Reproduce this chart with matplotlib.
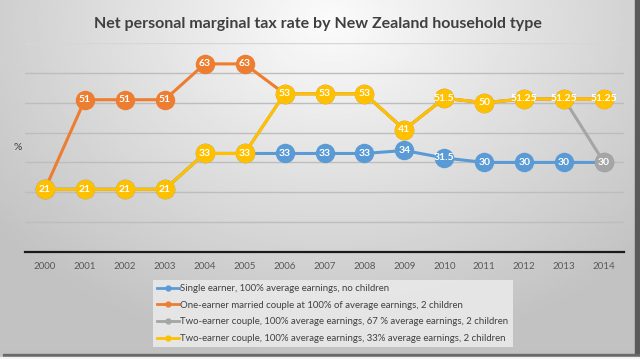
import numpy as np
import matplotlib
matplotlib.use("Agg")
import matplotlib.pyplot as plt

plt.rcParams["font.family"] = ["Lato", "DejaVu Sans"]

# ── data ──────────────────────────────────────────────
years = ["2000", "2001", "2002", "2003", "2004", "2005", "2006", "2007",
         "2008", "2009", "2010", "2011", "2012", "2013", "2014"]

single = [21, 21, 21, 21, 33, 33, 33, 33, 33, 34, 31.5, 30, 30, 30, 30]
one_earner = [21, 51, 51, 51, 63, 63, 53, 53, 53, 41, 51.5, 50, 51.25, 51.25, 51.25]
two_67 = [21, 21, 21, 21, 33, 33, 53, 53, 53, 41, 51.5, 50, 51.25, 51.25, 30]
two_33 = [21, 21, 21, 21, 33, 33, 53, 53, 53, 41, 51.5, 50, 51.25, 51.25, 51.25]

names = [
    "Single earner, 100% average earnings, no children",
    "One-earner married couple at 100% of average earnings, 2 children",
    "Two-earner couple, 100% average earnings, 67 % average earnings, 2 children",
    "Two-earner couple, 100% average earnings, 33% average earnings, 2 children",
]
colors = ["#5B9BD5", "#ED7D31", "#A5A5A5", "#FFC000"]
series = [single, one_earner, two_67, two_33]

# ── figure + gradient background ─────────────────────
fig = plt.figure(figsize=(6.4, 3.59), dpi=100)

bg = fig.add_axes([0, 0, 1, 1], zorder=-10)
gx, gy = np.meshgrid(np.linspace(0, 640, 320), np.linspace(0, 359, 180))
d = np.sqrt(((gx - 330) / 420) ** 2 + ((gy - 20) / 330) ** 2)
shade = np.clip(0.985 - 0.22 * d, 0.76, 0.985)
bg.imshow(shade, cmap="gray", vmin=0, vmax=1, extent=[0, 640, 359, 0],
          aspect="auto", interpolation="bilinear")
# screenshot shadow on right and bottom
bg.fill_between([635, 640], 0, 359, color="#5a5a5a")
bg.fill_between([3, 640], 354, 357, color="#6a6a6a")
bg.fill_between([0, 640], 357, 359, color="#f4f4f4")
bg.set_xlim(0, 640)
bg.set_ylim(359, 0)
bg.axis("off")

ax = fig.add_axes([25 / 640, (359 - 252) / 359, 599 / 640, 209 / 359])
ax.set_facecolor("none")

x = np.arange(len(years))
for i, (vals, col) in enumerate(zip(series, colors)):
    z = 3 + i
    ax.plot(x, vals, color=col, linewidth=2.2, marker="o", markersize=14,
            markeredgewidth=0, label=names[i], zorder=z, clip_on=False)
    for xi, v in zip(x, vals):
        ax.text(xi, v, f"{v:g}", color="white", fontsize=7.5, fontweight="bold",
                ha="center", va="center", zorder=z + 0.5)

ax.set_xlim(-0.5, len(years) - 0.5)
ax.set_ylim(0, 70)
ax.set_yticks(np.arange(10, 71, 10))
ax.yaxis.grid(True, color="#bdbdbd", linewidth=1.0)
ax.get_ygridlines()[-1].set_color("#d6d6d6")
ax.set_axisbelow(True)
ax.tick_params(axis="y", left=False, labelleft=False)
ax.set_xticks(x)
ax.set_xticklabels(years, fontsize=7, color="#595959")
ax.tick_params(axis="x", length=0, pad=7)
for s in ["top", "right", "left"]:
    ax.spines[s].set_visible(False)
ax.spines["bottom"].set_color("#1a1a1a")
ax.spines["bottom"].set_linewidth(1.6)

fig.text(18 / 640, 1 - 148 / 359, "%", fontsize=7.5, color="#404040",
         ha="center", va="center")
fig.text(318 / 640, 1 - 24 / 359,
         "Net personal marginal tax rate by New Zealand household type",
         fontsize=11.5, fontweight="bold", color="#404040",
         ha="center", va="center")

# legend with small markers
handles = [plt.Line2D([], [], color=c, linewidth=2, marker="o", markersize=3.5)
           for c in colors]
leg = fig.legend(handles, names, loc="upper left",
                 bbox_to_anchor=(148 / 640, 1 - 275 / 359),
                 fontsize=6.9, frameon=True, fancybox=False,
                 handlelength=2.3, handletextpad=0.1, labelspacing=0.8,
                 borderpad=0.45, labelcolor="#404040")
leg.get_frame().set_facecolor("#e9e9e9")
leg.get_frame().set_edgecolor("none")
leg.get_frame().set_alpha(0.9)

fig.savefig("out.png", dpi=100)
